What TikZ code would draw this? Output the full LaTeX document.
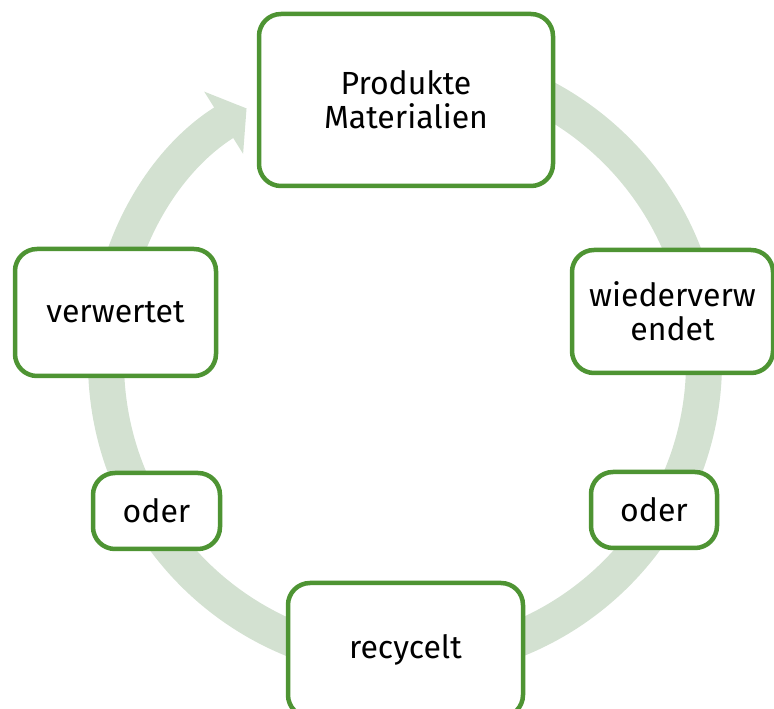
\documentclass[tikz,border=0pt]{standalone}
\usepackage{fontspec}
\setmainfont{Fira Sans}
\usetikzlibrary{arrows.meta}
\definecolor{cycGreen}{HTML}{4E9433}
\definecolor{cycPale}{HTML}{D3E1D1}
\tikzset{
  cyc ring/.style={draw=cycPale, line width=36pt, -{Triangle[length=27pt,width=72pt]}},
  cyc box/.style={draw=cycGreen, fill=white, line width=4.5pt, rounded corners=22pt, align=center, inner sep=0pt, font=\fontsize{32}{34}\selectfont},
}

\begin{document}
\begin{tikzpicture}[x=1pt,y=1pt]
\useasboundingbox(0,0)rectangle(774,709);
\coordinate(ctr)at(405,347);
\draw[cyc ring]([shift={(95:299)}]ctr)arc[start angle=95,end angle=-238,radius=299];
\node[cyc box,minimum width=294pt,minimum height=172pt](prod)at(406,609){Produkte\\Materialien};
\node[cyc box,minimum width=201pt,minimum height=123pt](wied)at(672.5,397.5){wiederverw\\endet};
\node[cyc box,minimum width=126pt,minimum height=76pt](oderR)at(654,199){oder};
\node[cyc box,minimum width=235pt,minimum height=134pt](recy)at(405.5,59){recycelt};
\node[cyc box,minimum width=127pt,minimum height=76pt](oderL)at(156.5,198){oder};
\node[cyc box,minimum width=201pt,minimum height=127pt](verw)at(115.5,396.5){verwertet};
\end{tikzpicture}
\end{document}
